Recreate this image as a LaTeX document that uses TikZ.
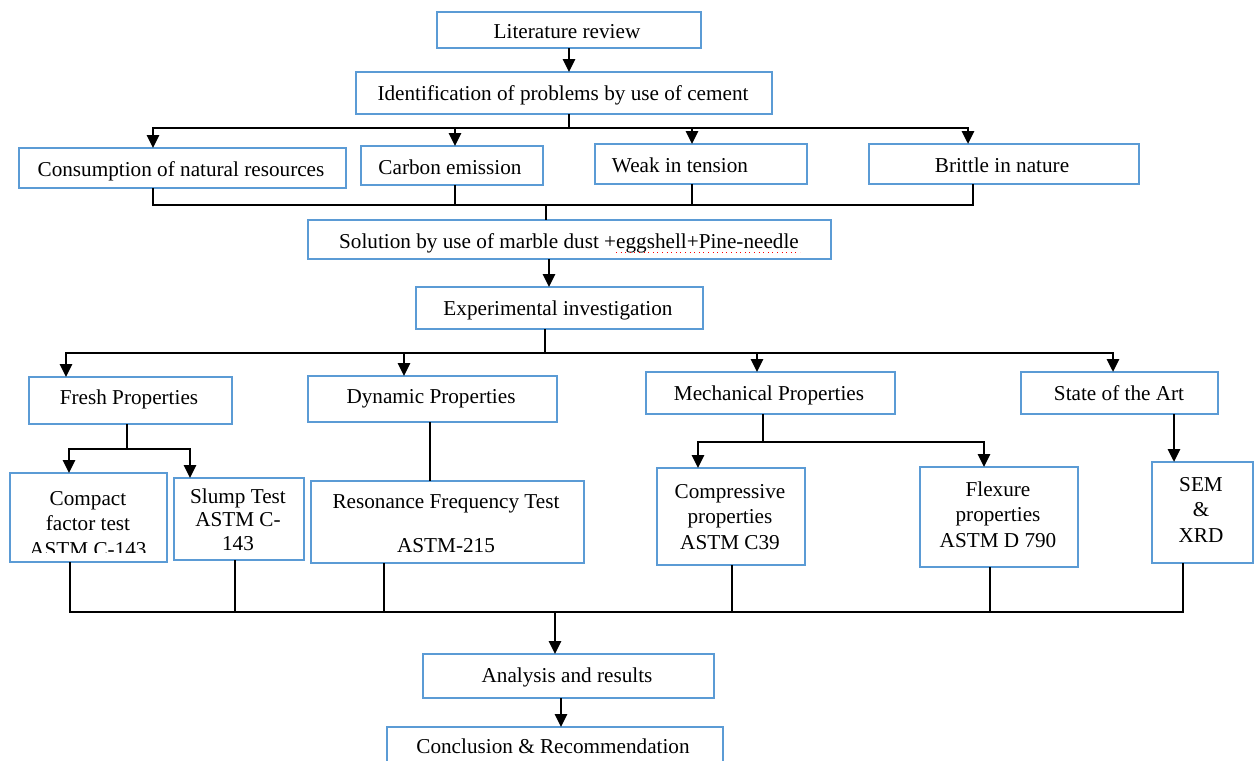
\documentclass[tikz,border=0pt]{standalone}
\usepackage{fontspec}
\setmainfont{Liberation Serif}
\usetikzlibrary{arrows.meta,fit}
\definecolor{boxblue}{RGB}{91,155,213}
\begin{document}
\begin{tikzpicture}[x=0.5pt,y=-0.5pt,
  box/.style={draw=boxblue,line width=0.8pt,inner sep=0pt,outer sep=0pt},
  txt/.style={font=\fontsize{10.6}{12.75}\selectfont,align=center,inner sep=0pt},
  bl/.style={txt,anchor=base},
  ln/.style={line width=1.4pt,line join=miter},
  arr/.style={line width=1.4pt,line join=miter,-{Triangle[length=6.5pt,width=6pt]}}]
\useasboundingbox (0,0) rectangle (1256,760);
\clip (0,0) rectangle (1256,760);
% boxes
\node[box,fit={(437,12) (701,48)}] (lit) {};
\node[box,fit={(356,72) (772,114)}] (ident) {};
\node[box,fit={(19,148) (346,188)}] (cons) {};
\node[box,fit={(361,146) (543,185)}] (carb) {};
\node[box,fit={(595,144) (807,184)}] (weak) {};
\node[box,fit={(869,144) (1139,184)}] (brit) {};
\node[box,fit={(308,220) (831,259)}] (sol) {};
\node[box,fit={(416,287) (703,329)}] (exp) {};
\node[box,fit={(29,377) (232,424)}] (fresh) {};
\node[box,fit={(308,376) (557,422)}] (dyn) {};
\node[box,fit={(646,372) (895,414)}] (mech) {};
\node[box,fit={(1021,372) (1218,414)}] (state) {};
\node[box,fit={(10,473) (167,562)}] (compact) {};
\node[box,fit={(174,478) (304,560)}] (slump) {};
\node[box,fit={(311,481) (584,563)}] (res) {};
\node[box,fit={(657,468) (805,565)}] (compr) {};
\node[box,fit={(920,467) (1078,567)}] (flex) {};
\node[box,fit={(1152,462) (1253,563)}] (sem) {};
\node[box,fit={(423,654) (714,698)}] (anal) {};
\node[box,fit={(387,727) (723,790)}] (concl) {};
% texts
\node[bl] (litT) at (567,38) {Literature review};
\node[bl] (identT) at (563,100) {Identification of problems by use of cement};
\node[bl] (consT) at (181,176) {Consumption of natural resources};
\node[bl] (carbT) at (450,174) {Carbon emission};
\node[bl] (weakT) at (680,172) {Weak in tension};
\node[bl] (britT) at (1002,172) {Brittle in nature};
\node[bl] (solT) at (569,248) {Solution by use of marble dust +eggshell+Pine-needle};
\draw[red,line width=0.3pt,dotted] (616,252) -- (800,252);
\node[bl] (expT) at (558,315) {Experimental investigation};
\node[bl] (freshT) at (129,404) {Fresh Properties};
\node[bl] (dynT) at (431,403) {Dynamic Properties};
\node[bl] (mechT) at (769,400) {Mechanical Properties};
\node[bl] (stateT) at (1119,400) {State of the Art};
\begin{scope}
\clip (10,473) rectangle (167,552);
\node[bl] (compactT) at (88,556) {Compact\\factor test\\ASTM C-143};
\end{scope}
\node[bl] (slumpT) at (238,550) {Slump Test\\[-1pt]ASTM C-\\[-1pt]143};
\node[bl] (resT) at (446,552) {Resonance Frequency Test\\[9pt]ASTM-215};
\node[bl] (comprT) at (730,549) {Compressive\\properties\\ASTM C39};
\node[bl] (flexT) at (998,547) {Flexure\\properties\\ASTM D 790};
\node[bl] (semT) at (1201,542) {SEM\\\&\\XRD};
\node[bl] (analT) at (567,682) {Analysis and results};
\node[bl] (conclT) at (553,753) {Conclusion \& Recommendation};
% connectors
\coordinate (k1) at (569,0);
\draw[arr] (lit.south -| k1) -- (ident.north -| k1);
\coordinate (b0) at (569,128);
\coordinate (b1) at (153,128);
\coordinate (b2) at (455,128);
\coordinate (b3) at (692,128);
\coordinate (b4) at (968,128);
\draw[ln] (ident.south -| b0) -- (b0);
\draw[arr] (b4) -- (b1) -- (cons.north -| b1);
\draw[arr] (b1) -- (b4) -- (brit.north -| b4);
\draw[arr] (b2) -- (carb.north -| b2);
\draw[arr] (b3) -- (weak.north -| b3);
\coordinate (c0) at (546,205);
\coordinate (c1) at (153,205);
\coordinate (c2) at (455,205);
\coordinate (c3) at (692,205);
\coordinate (c4) at (973,205);
\draw[ln] (cons.south -| c1) -- (c1) -- (c4) -- (brit.south -| c4);
\draw[ln] (carb.south -| c2) -- (c2);
\draw[ln] (weak.south -| c3) -- (c3);
\draw[ln] (c0) -- (sol.north -| c0);
\coordinate (k2) at (549,0);
\draw[arr] (sol.south -| k2) -- (exp.north -| k2);
\coordinate (d0) at (545,353);
\coordinate (d1) at (66,353);
\coordinate (d2) at (404,353);
\coordinate (d3) at (757,353);
\coordinate (d4) at (1113,353);
\draw[ln] (exp.south -| d0) -- (d0);
\draw[arr] (d4) -- (d1) -- (fresh.north -| d1);
\draw[arr] (d1) -- (d4) -- (state.north -| d4);
\draw[arr] (d2) -- (dyn.north -| d2);
\draw[arr] (d3) -- (mech.north -| d3);
\coordinate (e0) at (127,449);
\coordinate (e1) at (69,449);
\coordinate (e2) at (190,449);
\draw[ln] (fresh.south -| e0) -- (e0);
\draw[arr] (e2) -- (e1) -- (compact.north -| e1);
\draw[arr] (e1) -- (e2) -- (slump.north -| e2);
\coordinate (f0) at (430,0);
\draw[ln] (dyn.south -| f0) -- (res.north -| f0);
\coordinate (g0) at (763,442);
\coordinate (g1) at (698,442);
\coordinate (g2) at (984,442);
\draw[ln] (mech.south -| g0) -- (g0);
\draw[arr] (g2) -- (g1) -- (compr.north -| g1);
\draw[arr] (g1) -- (g2) -- (flex.north -| g2);
\coordinate (h0) at (1174,0);
\draw[arr] (state.south -| h0) -- (sem.north -| h0);
\coordinate (m0) at (555,612);
\coordinate (m1) at (70,612);
\coordinate (m2) at (235,612);
\coordinate (m3) at (384,612);
\coordinate (m4) at (732,612);
\coordinate (m5) at (990,612);
\coordinate (m6) at (1183,612);
\draw[ln] (compact.south -| m1) -- (m1) -- (m6) -- (sem.south -| m6);
\draw[ln] (slump.south -| m2) -- (m2);
\draw[ln] (res.south -| m3) -- (m3);
\draw[ln] (compr.south -| m4) -- (m4);
\draw[ln] (flex.south -| m5) -- (m5);
\draw[arr] (m0) -- (anal.north -| m0);
\coordinate (k3) at (561,0);
\draw[arr] (anal.south -| k3) -- (concl.north -| k3);
\end{tikzpicture}
\end{document}
